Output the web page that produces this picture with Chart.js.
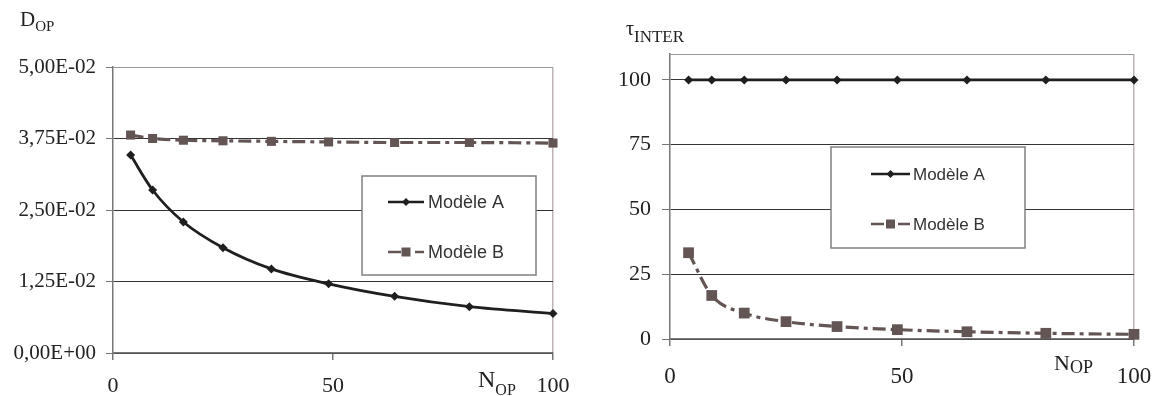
<!DOCTYPE html>
<html>
<head>
<meta charset="utf-8">
<script src="https://cdn.jsdelivr.net/npm/chart.js@4/dist/chart.umd.min.js"></script>
<style>
body { margin: 0; width: 1157px; height: 396px; background: #fff; position: relative; overflow: hidden; font-family: "Liberation Serif", serif; color: #222; }
canvas { position: absolute; top: 0; }
.lbl { position: absolute; line-height: 1; white-space: nowrap; }
.lbl span { position: relative; }
</style>
</head>
<body>
<canvas id="chartD" width="575" height="396" style="left:0"></canvas>
<canvas id="chartT" width="577" height="396" style="left:580px"></canvas>

<div class="lbl" style="left:20px;top:9px;font-size:21px">D<span style="font-size:15px;top:5px">OP</span></div>
<div class="lbl" style="left:626px;top:18px;font-size:20px">τ<span style="font-size:17px;top:7px">INTER</span></div>
<div class="lbl" style="left:478px;top:367px;font-size:24px">N<span style="font-size:16px;top:8px">OP</span></div>
<div class="lbl" style="left:1054px;top:352px;font-size:22px">N<span style="font-size:18px;top:3px">OP</span></div>

<script>
// ==========================================
// DATA
// ==========================================
const seriesNames = ['Modèle A', 'Modèle B'];
const nOp = [4, 9, 16, 25, 36, 49, 64, 81, 100];

// left chart : D_OP
const dOpA = [0.0346, 0.0285, 0.0229, 0.0184, 0.0147, 0.0121, 0.0099, 0.0081, 0.0069];
const dOpB = [0.0381, 0.0375, 0.0372, 0.0371, 0.0370, 0.0369, 0.0368, 0.0368, 0.0367];

// right chart : tau_INTER
const tauA = [100, 100, 100, 100, 100, 100, 100, 100, 100];
const tauB = [33.3, 16.8, 10.0, 6.7, 4.8, 3.6, 2.8, 2.2, 1.8];

// axis ticks
const xTicks = [0, 50, 100];
const dTicks = [0, 0.0125, 0.025, 0.0375, 0.05];
const tauTicks = [0, 25, 50, 75, 100];
const tauMax = 110;

// ==========================================
// HELPERS
// ==========================================
const colA = '#1f1f1f';
const colB = '#645555';

function toPoints(xs, ys) {
    return xs.map((x, i) => ({ x: x, y: ys[i] }));
}

// 0.0125 -> "1,25E-02"
function sci(v) {
    const parts = Number(v).toExponential(2).split('e');
    const n = parseInt(parts[1], 10);
    return parts[0].replace('.', ',') + 'E' + (n < 0 ? '-' : '+') + String(Math.abs(n)).padStart(2, '0');
}

function drawMarker(ctx, style, x, y, r, color) {
    ctx.fillStyle = color;
    ctx.beginPath();
    if (style === 'rectRot') {
        ctx.moveTo(x, y - r); ctx.lineTo(x + r, y); ctx.lineTo(x, y + r); ctx.lineTo(x - r, y);
    } else {
        ctx.rect(x - r, y - r, 2 * r, 2 * r);
    }
    ctx.closePath();
    ctx.fill();
}

// legend box drawn inside the plot (Excel style)
const boxLegend = {
    id: 'boxLegend',
    afterDatasetsDraw(chart, args, o) {
        const ctx = chart.ctx;
        ctx.save();
        ctx.fillStyle = '#fff';
        ctx.fillRect(o.x, o.y, o.w, o.h);
        ctx.strokeStyle = '#808080';
        ctx.lineWidth = 1.5;
        ctx.strokeRect(o.x, o.y, o.w, o.h);
        chart.data.datasets.forEach((ds, i) => {
            const y = o.rows[i];
            ctx.strokeStyle = ds.borderColor;
            ctx.lineWidth = 2.5;
            ctx.setLineDash(ds.borderDash || []);
            ctx.beginPath();
            ctx.moveTo(o.x0, y);
            ctx.lineTo(o.x1, y);
            ctx.stroke();
            ctx.setLineDash([]);
            drawMarker(ctx, ds.pointStyle, (o.x0 + o.x1) / 2, y, ds.pointStyle === 'rectRot' ? 4 : 4.5, ds.pointBackgroundColor);
            ctx.fillStyle = '#333';
            ctx.font = o.font;
            ctx.textBaseline = 'middle';
            ctx.fillText(ds.label, o.tx, y + 1);
        });
        ctx.restore();
    }
};

function makeDatasets(ysA, ysB, sqRadius) {
    return [
        {
            label: seriesNames[0],
            data: toPoints(nOp, ysA),
            borderColor: colA,
            borderWidth: 2.8,
            pointStyle: 'rectRot',
            pointRadius: 4.5,
            pointBackgroundColor: colA,
            pointBorderColor: colA,
            pointBorderWidth: 0,
            cubicInterpolationMode: 'monotone',
            clip: false
        },
        {
            label: seriesNames[1],
            data: toPoints(nOp, ysB),
            borderColor: colB,
            borderWidth: 3.2,
            borderDash: [13, 5, 4, 5],
            pointStyle: 'rect',
            pointRadius: sqRadius,
            pointBackgroundColor: colB,
            pointBorderColor: colB,
            pointBorderWidth: 0,
            cubicInterpolationMode: 'monotone',
            clip: false
        }
    ];
}

function xScale(fontSize, pad, height) {
    return {
        type: 'linear',
        min: 0,
        max: 100,
        afterBuildTicks: s => { s.ticks = xTicks.map(v => ({ value: v })); },
        // fixed axis height, no extra side padding for the end labels
        afterFit: s => { s.height = height; s.paddingLeft = 0; s.paddingRight = 0; },
        grid: {
            drawOnChartArea: true,
            color: c => c.index === xTicks.length - 1 ? '#bdb5b5' : 'rgba(0,0,0,0)',
            lineWidth: 1.5,
            tickColor: '#777',
            tickLength: 7
        },
        border: { color: '#777', width: 1.5 },
        ticks: { color: '#222', font: { family: 'Liberation Serif', size: fontSize }, padding: pad, maxRotation: 0 }
    };
}

// ==========================================
// LEFT CHART : D_OP
// ==========================================
new Chart(document.getElementById('chartD'), {
    type: 'line',
    data: { datasets: makeDatasets(dOpA, dOpB, 6.4) },
    options: {
        responsive: false,
        animation: false,
        events: [],
        layout: { padding: { top: 67, right: 22, left: 0, bottom: 0 } },
        plugins: {
            legend: { display: false },
            tooltip: { enabled: false },
            boxLegend: { x: 362, y: 176, w: 174, h: 99, rows: [202, 252], x0: 388, x1: 424, tx: 428, font: '18px "Liberation Sans"' }
        },
        scales: {
            x: xScale(22, 13, 43),
            y: {
                min: 0,
                max: 0.05,
                afterBuildTicks: s => { s.ticks = dTicks.map(v => ({ value: v })); },
                afterFit: s => { s.width = 113; s.paddingTop = 0; s.paddingBottom = 0; },
                grid: {
                    color: c => c.index === dTicks.length - 1 ? '#999' : '#333',
                    lineWidth: 1,
                    tickColor: '#777',
                    tickLength: 7
                },
                border: { color: '#777', width: 1.5 },
                ticks: { color: '#222', font: { family: 'Liberation Serif', size: 21 }, padding: 10, callback: v => sci(v) }
            }
        }
    },
    plugins: [boxLegend]
});

// ==========================================
// RIGHT CHART : tau_INTER
// ==========================================
new Chart(document.getElementById('chartT'), {
    type: 'line',
    data: { datasets: makeDatasets(tauA, tauB, 7.6) },
    options: {
        responsive: false,
        animation: false,
        events: [],
        layout: { padding: { top: 54, right: 23, left: 0, bottom: 0 } },
        plugins: {
            legend: { display: false },
            tooltip: { enabled: false },
            boxLegend: { x: 251, y: 147, w: 194, h: 101, rows: [174, 224], x0: 291, x1: 330, tx: 333, font: '17px "Liberation Sans"' }
        },
        scales: {
            x: xScale(23, 17, 57),
            y: {
                min: 0,
                max: tauMax,
                afterBuildTicks: s => { s.ticks = tauTicks.concat([tauMax]).map(v => ({ value: v })); },
                afterFit: s => { s.width = 90; s.paddingTop = 0; s.paddingBottom = 0; },
                grid: {
                    color: c => c.index === tauTicks.length ? '#999' : '#333',
                    lineWidth: 1,
                    tickColor: c => c.index === tauTicks.length ? 'rgba(0,0,0,0)' : '#777',
                    tickLength: 8
                },
                border: { color: '#777', width: 1.5 },
                ticks: { color: '#222', font: { family: 'Liberation Serif', size: 22 }, padding: 11, callback: v => v > 100 ? '' : v }
            }
        }
    },
    plugins: [boxLegend]
});
</script>
</body>
</html>
